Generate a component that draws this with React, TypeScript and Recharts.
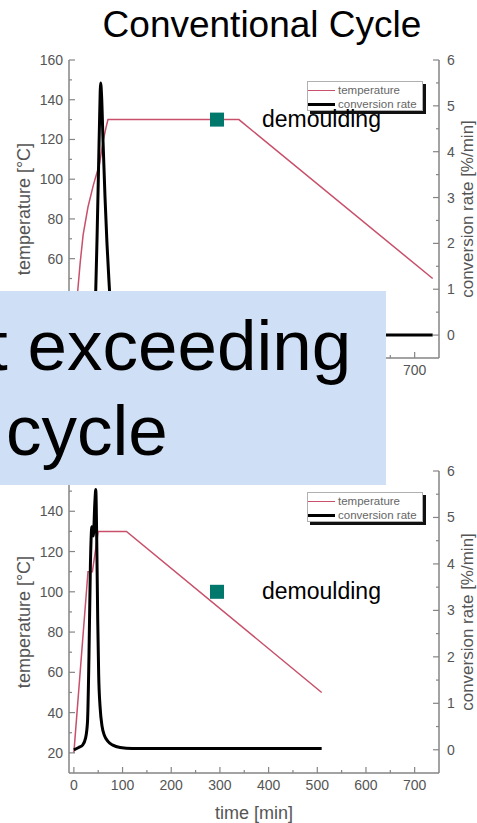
import React from 'react';
import { ComposedChart, Line, Scatter, XAxis, YAxis, Legend } from 'recharts';

// ---------- data ----------
const xTicks = [0, 50, 100, 150, 200, 250, 300, 350, 400, 450, 500, 550, 600, 650, 700];
const leftTicks = [20, 30, 40, 50, 60, 70, 80, 90, 100, 110, 120, 130, 140, 150, 160];
const rightTicks = [0, 0.5, 1, 1.5, 2, 2.5, 3, 3.5, 4, 4.5, 5, 5.5, 6];

// tick labels that are visible (the rest sit under the overlay box)
const convXLabels = [700];
const convLeftLabels = [60, 80, 100, 120, 140, 160];
const fastXLabels = [0, 100, 200, 300, 400, 500, 600, 700];
const fastLeftLabels = [20, 40, 60, 80, 100, 120, 140];
const rightLabels = [0, 1, 2, 3, 4, 5, 6];

const legendOrder = ['temperature', 'conversion rate'];

// Conventional cycle
const convTempTime = [0, 4, 8, 13, 19, 29, 40, 53, 60, 66, 70, 339, 737];
const convTempValue = [20, 33, 44, 58, 72, 86, 97, 108, 119, 126, 130, 130, 50];
const convRateTime = [0, 38, 42, 45, 48, 51, 53, 55, 57, 60, 64, 68, 72, 76, 80, 86, 737];
const convRateValue = [0, 0, 0.3, 1.0, 2.3, 3.8, 4.8, 5.5, 5.2, 4.2, 3.0, 2.0, 1.2, 0.5, 0.15, 0, 0];
const convDemouldTime = [294];
const convDemouldTemp = [130];

// Fast cycle
const fastTempTime = [0, 29, 38, 44, 50, 108, 509];
const fastTempValue = [20, 110, 110, 120, 130, 130, 50];
const fastRateTime = [0, 10, 18, 24, 28, 31, 34, 37, 40, 43, 45, 47, 49, 51, 54, 58, 63, 70, 80, 95, 120, 509];
const fastRateValue = [0, 0.05, 0.1, 0.25, 0.6, 2.0, 4.0, 4.8, 4.6, 5.3, 5.6, 4.5, 2.8, 1.6, 0.9, 0.5, 0.3, 0.18, 0.1, 0.05, 0.03, 0.03];
const fastDemouldTime = [294];
const fastDemouldTemp = [100];

const zip = (ts: number[], vs: number[]) => ts.map((t, i) => ({ t, v: vs[i] }));

// ---------- styles ----------
const FONT = '"Liberation Sans", Arial, Helvetica, sans-serif';
const AXIS = '#858585';
const TXT = '#555555';
const RED = '#c8506a';
const TEAL = '#00786c';

const makeLeftTick = (labels: number[]) => (props: any) => {
  const { x, y, payload } = props;
  const v = payload.value;
  const major = v % 20 === 0;
  return (
    <g>
      <line x1={x} x2={x + (major ? 6 : 3)} y1={y} y2={y} stroke={AXIS} strokeWidth={1.2} />
      {labels.includes(v) && (
        <text x={x - 6} y={y} dy={5} textAnchor="end" fontSize={14} fill={TXT} fontFamily={FONT}>
          {v}
        </text>
      )}
    </g>
  );
};

function RightTick(props: any) {
  const { x, y, payload } = props;
  const v = payload.value;
  const major = Number.isInteger(v);
  return (
    <g>
      <line x1={x} x2={x - (major ? 6 : 3)} y1={y} y2={y} stroke={AXIS} strokeWidth={1.2} />
      {rightLabels.includes(v) && (
        <text x={x + 8} y={y} dy={5} textAnchor="start" fontSize={14} fill={TXT} fontFamily={FONT}>
          {v}
        </text>
      )}
    </g>
  );
}

const makeBottomTick = (labels: number[]) => (props: any) => {
  const { x, y, payload } = props;
  const v = payload.value;
  const major = v % 100 === 0;
  return (
    <g>
      <line x1={x} x2={x} y1={y} y2={y - (major ? 6 : 3)} stroke={AXIS} strokeWidth={1.2} />
      {labels.includes(v) && (
        <text x={x} y={y + 17} textAnchor="middle" fontSize={14} fill={TXT} fontFamily={FONT}>
          {v}
        </text>
      )}
    </g>
  );
};

function TopTick(props: any) {
  const { x, y, payload } = props;
  const v = payload.value;
  const major = v % 100 === 0;
  return <line x1={x} x2={x} y1={y} y2={y + (major ? 6 : 3)} stroke={AXIS} strokeWidth={1.2} />;
}

const DemouldShape = (props: any) => {
  const { cx, cy } = props;
  if (cx == null || cy == null) return null;
  return (
    <g>
      <rect x={cx - 7} y={cy - 7} width={14} height={14} fill={TEAL} />
      <text x={cx + 45} y={cy + 7} fontSize={23} fill="#000" fontFamily={FONT}>
        demoulding
      </text>
    </g>
  );
};

const LegendBox = (props: any) => {
  const items = (props.payload || [])
    .filter((p: any) => p.type !== 'none')
    .slice()
    .sort((a: any, b: any) => legendOrder.indexOf(a.value) - legendOrder.indexOf(b.value));
  return (
    <div
      style={{
        width: 114,
        height: 27,
        border: '1px solid #b0b0b0',
        background: '#fff',
        boxShadow: '3px 3px 0 #111',
        fontFamily: FONT,
        fontSize: 11.5,
        color: '#666',
        paddingTop: 1,
        boxSizing: 'content-box',
      }}
    >
      {items.map((it: any, i: number) => (
        <div key={i} style={{ display: 'flex', alignItems: 'center', height: 14 }}>
          <div
            style={{
              width: 27,
              height: 0,
              borderTop: `${it.payload?.strokeWidth ?? 1}px solid ${it.color}`,
              marginRight: 3,
              flexShrink: 0,
            }}
          />
          <span style={{ lineHeight: '14px', whiteSpace: 'nowrap' }}>{it.value}</span>
        </div>
      ))}
    </div>
  );
};

const leftLabel = {
  content: (p: any) => {
    const vb = p.viewBox || { x: 9, y: 60, width: 60, height: 300 };
    return (
      <text
        transform={`translate(${vb.x + 15},${vb.y + vb.height / 2}) rotate(-90)`}
        dy={6}
        textAnchor="middle"
        fontSize={18}
        fill={TXT}
        fontFamily={FONT}
      >
        temperature [°C]
      </text>
    );
  },
};

const rightLabel = {
  content: (p: any) => {
    const vb = p.viewBox || { x: 439, y: 60, width: 30, height: 300 };
    return (
      <text
        transform={`translate(${vb.x + 28},${vb.y + vb.height / 2}) rotate(-90)`}
        dy={6}
        textAnchor="middle"
        fontSize={17}
        fill={TXT}
        fontFamily={FONT}
      >
        conversion rate [%/min]
      </text>
    );
  },
};

const timeLabel = {
  content: (p: any) => {
    const vb = p.viewBox || { x: 69, y: 363, width: 370, height: 30 };
    return (
      <text x={vb.x + vb.width / 2} y={vb.y + 46} textAnchor="middle" fontSize={18} fill={TXT} fontFamily={FONT}>
        time [min]
      </text>
    );
  },
};

type CycleProps = {
  height: number;
  marginTop: number;
  marginBottom: number;
  temp: { t: number; v: number }[];
  rate: { t: number; v: number }[];
  demould: { t: number; v: number }[];
  legendTop: number;
  showTimeLabel: boolean;
  xLabels: number[];
  leftLabels: number[];
};

function CycleChart(p: CycleProps) {
  const BottomTick = makeBottomTick(p.xLabels);
  const LeftTick = makeLeftTick(p.leftLabels);
  return (
    <ComposedChart
      width={477}
      height={p.height}
      margin={{ top: p.marginTop, right: 8, bottom: p.marginBottom, left: 9 }}
    >
      <XAxis
        xAxisId="b"
        dataKey="t"
        type="number"
        domain={[-10, 750]}
        allowDataOverflow
        ticks={xTicks}
        interval={0}
        tickSize={0}
        tickMargin={0}
        height={30}
        stroke={AXIS}
        axisLine={{ stroke: AXIS, strokeWidth: 1.5 }}
        tickLine={false}
        tick={<BottomTick />}
        label={p.showTimeLabel ? timeLabel : undefined}
      />
      <XAxis
        xAxisId="top"
        orientation="top"
        type="number"
        domain={[-10, 750]}
        allowDataOverflow
        ticks={xTicks}
        interval={0}
        tickSize={0}
        tickMargin={0}
        height={0}
        axisLine={{ stroke: AXIS, strokeWidth: 1.5 }}
        tickLine={false}
        tick={<TopTick />}
      />
      <YAxis
        yAxisId="l"
        type="number"
        domain={[10, 160]}
        allowDataOverflow
        ticks={leftTicks}
        interval={0}
        tickSize={0}
        tickMargin={0}
        width={60}
        axisLine={{ stroke: AXIS, strokeWidth: 1.5 }}
        tickLine={false}
        tick={<LeftTick />}
        label={leftLabel}
      />
      <YAxis
        yAxisId="r"
        orientation="right"
        type="number"
        domain={[-0.5, 6]}
        allowDataOverflow
        ticks={rightTicks}
        interval={0}
        tickSize={0}
        tickMargin={0}
        width={30}
        axisLine={{ stroke: AXIS, strokeWidth: 1.5 }}
        tickLine={false}
        tick={<RightTick />}
        label={rightLabel}
      />
      <Legend
        layout="horizontal"
        verticalAlign="middle"
        align="center"
        content={LegendBox}
        wrapperStyle={{ position: 'absolute', left: 307, top: p.legendTop, width: 116, height: 29, zIndex: -1 }}
      />
      <Line
        xAxisId="b"
        yAxisId="l"
        data={p.temp}
        dataKey="v"
        name="temperature"
        type="linear"
        stroke={RED}
        strokeWidth={1.5}
        dot={false}
        activeDot={false}
        isAnimationActive={false}
      />
      <Line
        xAxisId="b"
        yAxisId="r"
        data={p.rate}
        dataKey="v"
        name="conversion rate"
        type="monotone"
        stroke="#000"
        strokeWidth={3}
        dot={false}
        activeDot={false}
        isAnimationActive={false}
      />
      <Scatter
        xAxisId="b"
        yAxisId="l"
        data={p.demould}
        dataKey="v"
        name="demoulding"
        legendType="none"
        shape={DemouldShape}
        isAnimationActive={false}
      />
    </ComposedChart>
  );
}

export default function App() {
  return (
    <div
      style={{
        position: 'absolute',
        left: 0,
        top: 0,
        width: 477,
        height: 823,
        background: '#fff',
        overflow: 'hidden',
        zIndex: 0,
        fontFamily: FONT,
      }}
    >
      <div style={{ position: 'absolute', left: 0, top: 0 }}>
        <CycleChart
          height={400}
          marginTop={60}
          marginBottom={12}
          temp={zip(convTempTime, convTempValue)}
          rate={zip(convRateTime, convRateValue)}
          demould={zip(convDemouldTime, convDemouldTemp)}
          legendTop={81}
          showTimeLabel={false}
          xLabels={convXLabels}
          leftLabels={convLeftLabels}
        />
      </div>
      <div style={{ position: 'absolute', left: 0, top: 410 }}>
        <CycleChart
          height={413}
          marginTop={61}
          marginBottom={20}
          temp={zip(fastTempTime, fastTempValue)}
          rate={zip(fastRateTime, fastRateValue)}
          demould={zip(fastDemouldTime, fastDemouldTemp)}
          legendTop={82}
          showTimeLabel={true}
          xLabels={fastXLabels}
          leftLabels={fastLeftLabels}
        />
      </div>
      <svg
        width={477}
        height={823}
        style={{ position: 'absolute', left: 0, top: 0, zIndex: 5, pointerEvents: 'none' }}
      >
        <text x={262} y={37} textAnchor="middle" fontSize={37} fill="#000" fontFamily={FONT}>
          Conventional Cycle
        </text>
        <rect x={0} y={291} width={386} height={194} fill="#cfe0f6" />
        <text x={-12} y={370} fontSize={71} fill="#000" fontFamily={FONT}>
          t exceeding
        </text>
        <text x={6} y={455} fontSize={71} fill="#000" fontFamily={FONT}>
          cycle
        </text>
      </svg>
    </div>
  );
}
